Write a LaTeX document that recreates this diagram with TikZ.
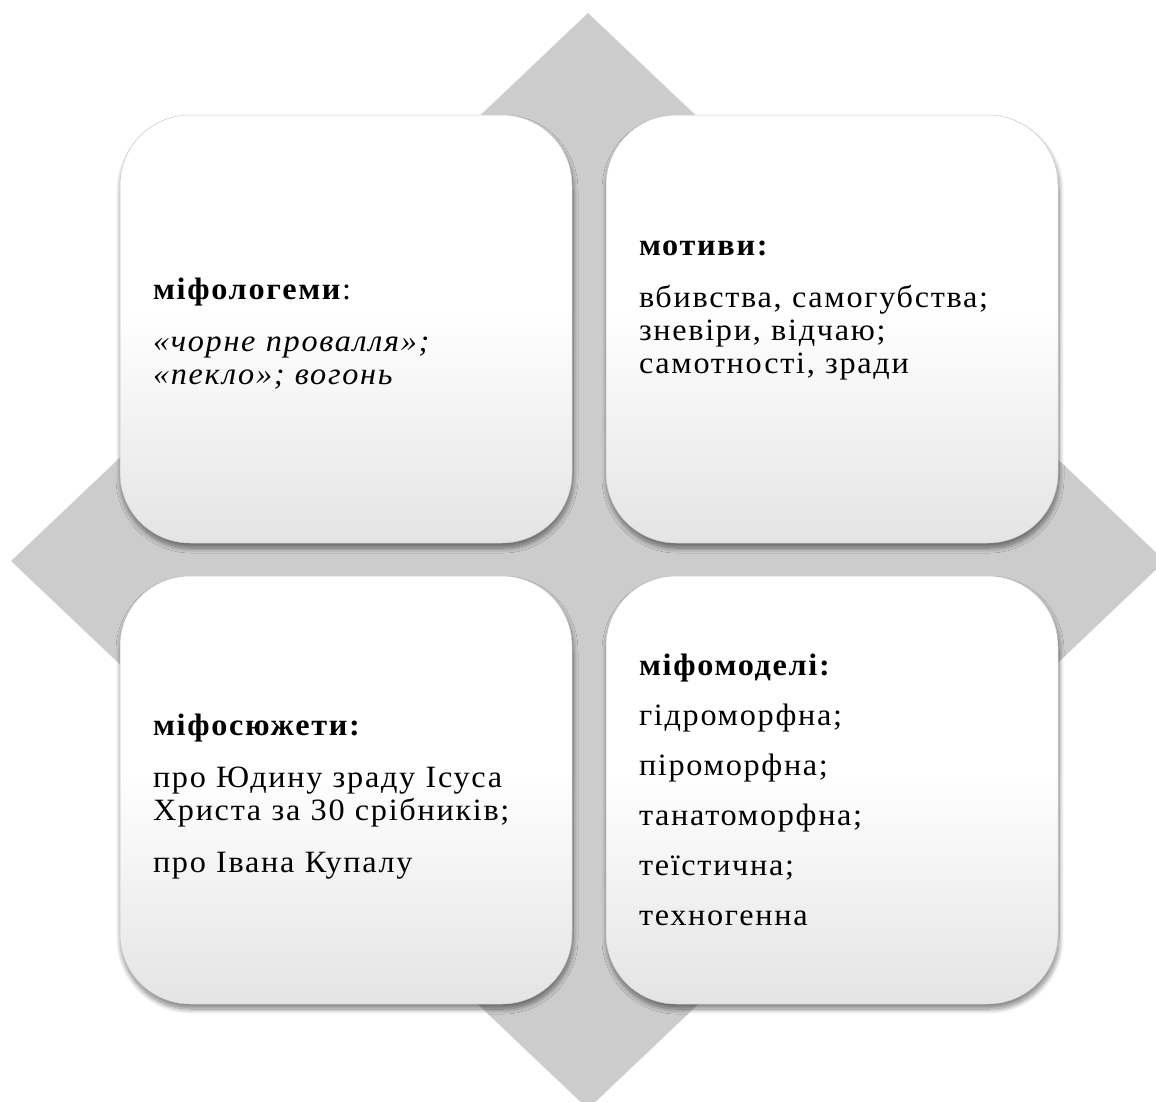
\documentclass[tikz,border=0pt]{standalone}
\usepackage{fontspec}
\setmainfont[FakeStretch=1.04,LetterSpace=5.5]{Liberation Serif}
\usetikzlibrary{shadows.blur}
\definecolor{diamondgray}{HTML}{CCCCCC}
\definecolor{boxedge}{HTML}{C8C8C8}
\definecolor{boxfoot}{HTML}{E4E4E4}
% white upper part, fading to light grey towards the bottom
\pgfdeclareverticalshading{boxfade}{100bp}{color(0bp)=(boxfoot); color(25bp)=(boxfoot); color(52bp)=(white); color(100bp)=(white)}
\tikzset{
  tile/.style={rounded corners=70pt, minimum width=452pt, minimum height=428pt,
    draw=boxedge, line width=0.5pt, shade, shading=boxfade,
    blur shadow={shadow xshift=1pt, shadow yshift=-5pt, shadow blur radius=5pt,
      shadow blur steps=12, shadow opacity=50}},
  tiletext/.style={inner sep=0pt, text width=386pt, align=left,
    font=\fontsize{31}{33}\selectfont},
}
\begin{document}
\begin{tikzpicture}[x=1pt,y=-1pt]
\useasboundingbox (0,0) rectangle (1156,1101);
\clip (0,0) rectangle (1156,1101);
% background diamond
\fill[diamondgray] (588,13) -- (1165,561) -- (588,1109) -- (11,561) -- cycle;
% four tiles
\node[tile] (mf) at (346,329) {};
\node[tile] (mt) at (832,329) {};
\node[tile] (ms) at (346,790) {};
\node[tile] (mm) at (832,790) {};
% their texts
\node[tiletext, yshift=-5pt] (mftext) at (mf.center) {\textbf{міфологеми}:\\[19pt]
  \textit{«чорне провалля»;}\\
  \textit{«пекло»; вогонь}};
\node[tiletext, yshift=19pt] (mttext) at (mt.center) {\textbf{мотиви:}\\[19pt]
  вбивства, самогубства;\\
  зневіри, відчаю;\\
  самотності, зради};
\node[tiletext, yshift=-7pt] (mstext) at (ms.center) {\textbf{міфосюжети:}\\[19pt]
  про Юдину зраду Ісуса\\
  Христа за 30 срібників;\\[19pt]
  про Івана Купалу};
\node[tiletext] (mmtext) at (mm.center) {\textbf{міфомоделі:}\\[17pt]
  гідроморфна;\\[17pt]
  піроморфна;\\[17pt]
  танатоморфна;\\[17pt]
  теїстична;\\[17pt]
  техногенна};
\end{tikzpicture}
\end{document}
